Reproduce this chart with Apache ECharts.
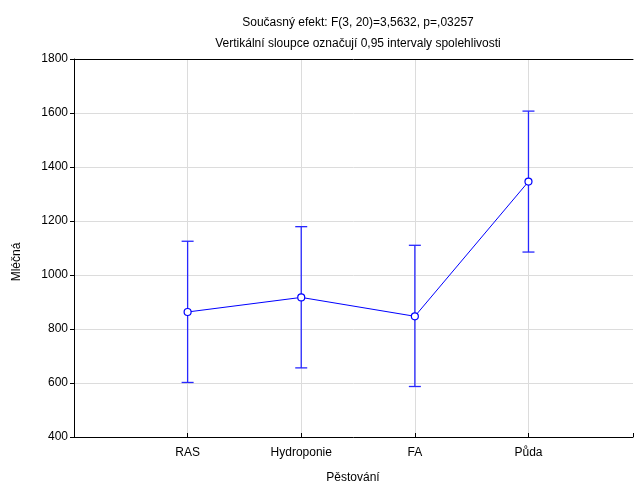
<!DOCTYPE html>
<html>
<head>
<meta charset="utf-8">
<script src="https://cdn.jsdelivr.net/npm/echarts@6/dist/echarts.min.js"></script>
<style>html,body{margin:0;padding:0;background:#fff}#c{width:634px;height:483px}</style>
</head>
<body>
<div id="c"></div>
<script>
var categories = ['RAS', 'Hydroponie', 'FA', 'Půda'];
var means = [863, 917, 847, 1346];
var lower = [602, 656, 587, 1085];
var upper = [1125, 1179, 1110, 1607];
var yTicks = [400, 600, 800, 1000, 1200, 1400, 1600, 1800];

var FONT = '"Liberation Sans", Arial, sans-serif';
var chart = echarts.init(document.getElementById('c'));
var lineData = means.map(function (m, i) { return [i + 1, m]; });
var errData = means.map(function (m, i) { return [i + 1, lower[i], upper[i]]; });

chart.setOption({
  animation: false,
  backgroundColor: '#fff',
  title: {
    text: 'Současný efekt: F(3, 20)=3,5632, p=,03257\nVertikální sloupce označují 0,95 intervaly spolehlivosti',
    left: 353, top: 7, textAlign: 'center',
    textStyle: { fontFamily: FONT, fontSize: 12, fontWeight: 'normal', color: '#000', lineHeight: 21 }
  },
  grid: { left: 74, top: 59, bottom: 46, right: 1 },
  xAxis: [{
    type: 'value', min: 0, max: 4.92, interval: 1,
    axisLine: { show: true, lineStyle: { color: '#000', width: 1 } },
    axisTick: { show: true, inside: true, length: 4, lineStyle: { color: '#000' } },
    axisLabel: {
      margin: 10, fontFamily: FONT, fontSize: 12, color: '#000',
      customValues: [1, 2, 3, 4],
      formatter: function (v) { return categories[Math.round(v) - 1] || ''; }
    },
    splitLine: { show: true, showMinLine: false, showMaxLine: false, lineStyle: { color: '#dcdcdc', width: 1 } }
  }, {
    type: 'value', position: 'top', min: 0, max: 4.92,
    axisLine: { show: true, lineStyle: { color: '#000', width: 1 } },
    axisTick: { show: false }, axisLabel: { show: false }, splitLine: { show: false }
  }],
  yAxis: {
    type: 'value', min: yTicks[0], max: yTicks[yTicks.length - 1], interval: 200,
    axisLine: { show: true, lineStyle: { color: '#000', width: 1 } },
    axisTick: { show: true, inside: false, length: 4, lineStyle: { color: '#000' } },
    axisLabel: { margin: 6, fontFamily: FONT, fontSize: 12, color: '#000',
      formatter: function (v) { return String(v); } },
    splitLine: { show: true, lineStyle: { color: '#dcdcdc', width: 1 } }
  },
  graphic: [
    { type: 'text', x: 17, y: 262, rotation: Math.PI / 2,
      style: { text: 'Mléčná', fill: '#000', font: '12px ' + FONT, textAlign: 'center', textVerticalAlign: 'middle' } },
    { type: 'text', x: 353, y: 478,
      style: { text: 'Pěstování', fill: '#000', font: '12px ' + FONT, textAlign: 'center', textVerticalAlign: 'middle' } }
  ],
  series: [
    {
      type: 'custom',
      data: errData,
      z: 3,
      renderItem: function (params, api) {
        var x = api.value(0);
        var lo = api.coord([x, api.value(1)]);
        var hi = api.coord([x, api.value(2)]);
        var w = 6;
        var st = { stroke: '#2828ff', lineWidth: 1.3 };
        return {
          type: 'group',
          children: [
            { type: 'line', shape: { x1: lo[0], y1: lo[1], x2: hi[0], y2: hi[1] }, style: st },
            { type: 'line', shape: { x1: lo[0] - w, y1: lo[1], x2: lo[0] + w, y2: lo[1] }, style: st },
            { type: 'line', shape: { x1: hi[0] - w, y1: hi[1], x2: hi[0] + w, y2: hi[1] }, style: st }
          ]
        };
      }
    },
    {
      type: 'line',
      data: lineData,
      z: 4,
      symbol: 'circle',
      symbolSize: 7,
      showAllSymbol: true,
      lineStyle: { color: '#0000ff', width: 1 },
      itemStyle: { color: '#fff', borderColor: '#0000ff', borderWidth: 1.2 }
    }
  ]
});
</script>
</body>
</html>
